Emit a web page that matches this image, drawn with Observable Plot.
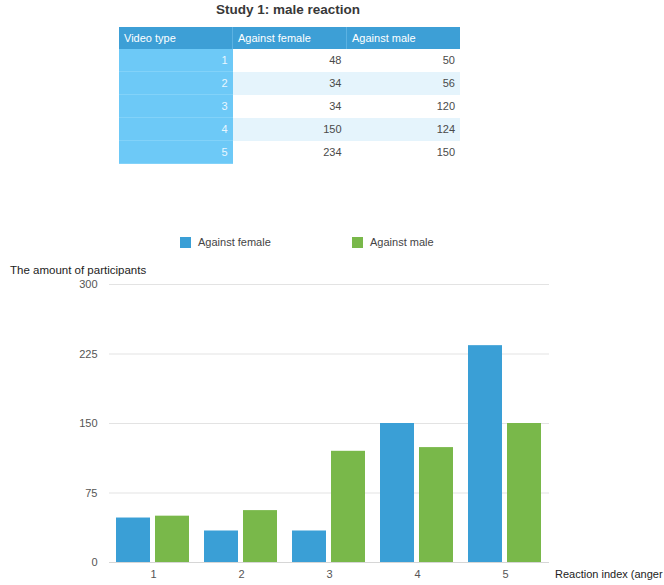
<!DOCTYPE html>
<html>
<head>
<meta charset="utf-8">
<script src="https://cdn.jsdelivr.net/npm/d3@7"></script>
<script src="https://cdn.jsdelivr.net/npm/@observablehq/plot@0.6"></script>
<style>
  html, body { margin: 0; padding: 0; background: #fff; overflow: hidden; }
  body { width: 664px; height: 585px; position: relative; font-family: "Liberation Sans", Arial, sans-serif; }
  #title { position: absolute; left: 0; width: 576px; top: 2px; text-align: center; font-size: 13.5px; font-weight: bold; color: #383838; }
  table { position: absolute; left: 119px; top: 27px; border-collapse: collapse; font-size: 11px; }
  th { background: #3d9fd6; color: #fff; font-weight: normal; text-align: left; height: 22px; padding: 0 0 0 5px; width: 108px; }
  th + th { border-left: 1px solid #5cb2e2; }
  td { height: 22px; padding: 0 5px 0 0; text-align: right; color: #4a4a4a; width: 108px; }
  td.first { background: #6dc9f7; color: #e9f7ff; border-bottom: 1px solid #82d2f9; }
  tr.alt td:not(.first) { background: #e5f4fc; }
  #legend { position: absolute; top: 236px; left: 0; font-size: 11px; color: #444; }
  .sw { position: absolute; width: 11px; height: 11px; top: 1px; }
  .lt { position: absolute; top: 0; white-space: nowrap; }
  #ylabel { position: absolute; left: 10px; top: 264px; font-size: 11.5px; color: #222; white-space: nowrap; }
  #xlabel { position: absolute; left: 555px; top: 568px; font-size: 11px; color: #222; white-space: nowrap; }
  #chart { position: absolute; left: 0; top: 225px; }
</style>
</head>
<body>
<div id="title">Study 1: male reaction</div>
<div id="tablewrap"></div>
<div id="legend"></div>
<div id="ylabel">The amount of participants</div>
<div id="xlabel">Reaction index (anger level)</div>
<div id="chart"></div>
<script>
const title = "Study 1: male reaction";
const columns = ["Video type", "Against female", "Against male"];
const categories = [1, 2, 3, 4, 5];
const againstFemale = [48, 34, 34, 150, 234];
const againstMale = [50, 56, 120, 124, 150];
const seriesNames = ["Against female", "Against male"];
const seriesColors = ["#3a9fd6", "#79b84a"];
const yTicks = [0, 75, 150, 225, 300];
const yLabel = "The amount of participants";
const xLabel = "Reaction index (anger level)";

// Table
let html = "<table><tr>" + columns.map(c => `<th>${c}</th>`).join("") + "</tr>";
categories.forEach((c, i) => {
  html += `<tr class="${i % 2 === 1 ? "alt" : ""}"><td class="first">${c}</td><td>${againstFemale[i]}</td><td>${againstMale[i]}</td></tr>`;
});
html += "</table>";
document.getElementById("tablewrap").innerHTML = html;
document.getElementById("title").textContent = title;
document.getElementById("ylabel").textContent = yLabel;
document.getElementById("xlabel").textContent = xLabel;

// Legend
const legendPos = [180, 352];
document.getElementById("legend").innerHTML = seriesNames.map((s, i) =>
  `<span class="sw" style="left:${legendPos[i]}px;background:${seriesColors[i]}"></span><span class="lt" style="left:${legendPos[i] + 18}px">${s}</span>`
).join("");

// Data table
const data = [];
categories.forEach((c, i) => {
  data.push({type: c, series: seriesNames[0], value: againstFemale[i]});
  data.push({type: c, series: seriesNames[1], value: againstMale[i]});
});

const chart = Plot.plot({
  width: 664,
  height: 360,
  marginTop: 59,
  marginBottom: 23,
  marginLeft: 108,
  marginRight: 114,
  style: {fontFamily: "Liberation Sans, Arial, sans-serif", fontSize: "11px", color: "#555", background: "transparent"},
  fx: {domain: categories, padding: 0, axis: "bottom", label: null, tickSize: 0, tickPadding: 8},
  x: {domain: seriesNames, paddingInner: 0.127, paddingOuter: 0.18, axis: null},
  y: {domain: [0, 300], ticks: yTicks, label: null, tickSize: 0, tickPadding: 12},
  color: {domain: seriesNames, range: seriesColors},
  marks: [
    Plot.ruleY(yTicks.filter(d => d > 0), {stroke: "#e3e3e3", strokeWidth: 1}),
    Plot.barY(data, {fx: "type", x: "series", y: "value", fill: "series"}),
    Plot.ruleY([0], {stroke: "#d6d6d6", strokeWidth: 1})
  ]
});
document.getElementById("chart").appendChild(chart);
</script>
</body>
</html>
